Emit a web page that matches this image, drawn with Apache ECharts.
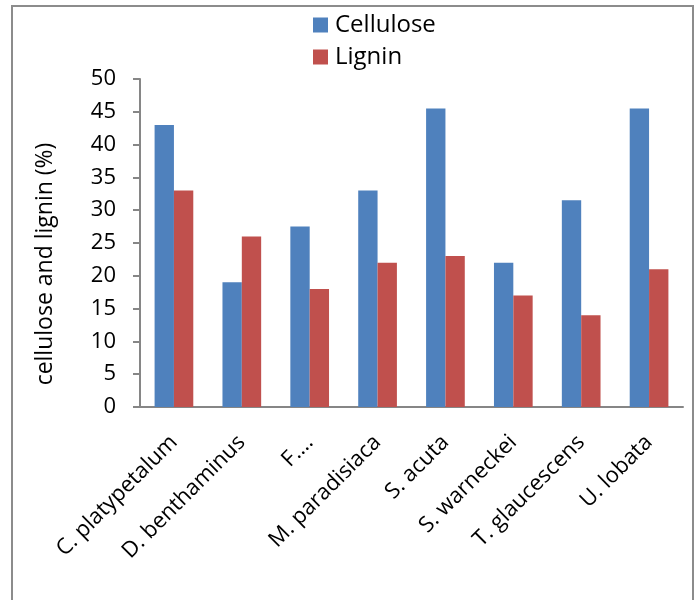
<!DOCTYPE html>
<html><head><meta charset="utf-8">
<script src="https://cdn.jsdelivr.net/npm/echarts@6/dist/echarts.min.js"></script>
<style>html,body{margin:0;padding:0;background:#fff}#c{width:699px;height:600px}</style>
</head><body><div id="c"></div>
<script>
const categories = ["C. platypetalum","D. benthaminus","F.…","M. paradisiaca","S. acuta","S. warneckei","T. glaucescens","U. lobata"];
const cellulose = [43, 19, 27.5, 33, 45.5, 22, 31.5, 45.5];
const lignin = [33, 26, 18, 22, 23, 17, 14, 21];
const yTicks = [0, 50, 5];

const FONT = "Open Sans";
const chart = echarts.init(document.getElementById('c'), null, {renderer:'canvas'});
chart.setOption({
  animation:false,
  backgroundColor:'#fff',
  textStyle:{fontFamily:FONT,color:'#000'},
  graphic:[{type:'rect',shape:{x:12,y:6,width:681,height:620},style:{fill:'none',stroke:'#8c8c8c',lineWidth:2},silent:true}],
  legend:{
    orient:'vertical', left:308, top:8, itemWidth:15, itemHeight:15, itemGap:8,
    icon:'rect',
    textStyle:{fontFamily:FONT,fontSize:24,color:'#000',lineHeight:24,padding:[0,0,0,2]},
    data:['Cellulose','Lignin']
  },
  grid:{left:140,right:16,top:79,bottom:193,containLabel:false},
  xAxis:{
    type:'category', data:categories,
    axisLine:{lineStyle:{color:'#868686',width:2}},
    axisTick:{show:false},
    axisLabel:{interval:0,rotate:45,fontFamily:FONT,fontSize:22,color:'#000',margin:32}
  },
  yAxis:{
    type:'value', min:yTicks[0], max:yTicks[1], interval:yTicks[2],
    name:'cellulose and lignin (%)', nameLocation:'middle', nameGap:83,
    nameTextStyle:{fontFamily:FONT,fontSize:23,color:'#000',padding:[0,42,0,0]},
    axisLine:{show:true,lineStyle:{color:'#868686',width:2}},
    axisTick:{show:true,length:7,lineStyle:{color:'#868686',width:2}},
    splitLine:{show:false},
    axisLabel:{fontFamily:FONT,fontSize:22,color:'#000',margin:24}
  },
  series:[
    {name:'Cellulose',type:'bar',data:cellulose,barGap:'0%',barCategoryGap:'43%',itemStyle:{color:'#4F81BD'}},
    {name:'Lignin',type:'bar',data:lignin,barGap:'0%',barCategoryGap:'43%',itemStyle:{color:'#C0504D'}}
  ]
});
</script></body></html>
